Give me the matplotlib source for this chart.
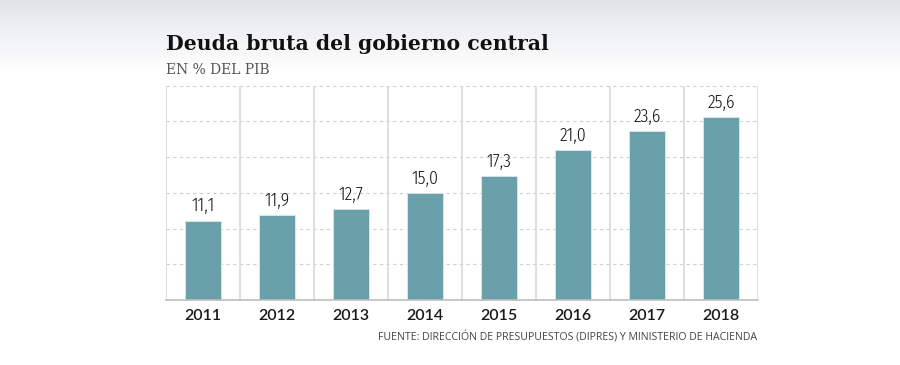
import matplotlib
matplotlib.use("Agg")
import matplotlib.pyplot as plt
import numpy as np
from matplotlib.colors import LinearSegmentedColormap

years = ["2011", "2012", "2013", "2014", "2015", "2016", "2017", "2018"]
values = [11.1, 11.9, 12.7, 15.0, 17.3, 21.0, 23.6, 25.6]
value_labels = ["11,1", "11,9", "12,7", "15,0", "17,3", "21,0", "23,6", "25,6"]

title = "Deuda bruta del gobierno central"
subtitle = "EN % DEL PIB"
source = "FUENTE: DIRECCIÓN DE PRESUPUESTOS (DIPRES) Y MINISTERIO DE HACIENDA"

SERIF = ["DejaVu Serif"]
COND = ["Fira Sans Condensed", "DejaVu Sans"]

W, H = 900, 365
fig = plt.figure(figsize=(W / 100, H / 100), dpi=100)
fig.patch.set_facecolor("white")

# top gradient band
bg = fig.add_axes([0, 0, 1, 1], zorder=-10)
bg.set_axis_off()
grad = np.linspace(0, 1, 256).reshape(-1, 1)
cmap = LinearSegmentedColormap.from_list("g", ["#e2e5e8", "#ffffff"])
bg.imshow(grad, aspect="auto", cmap=cmap, extent=[0, 1, 1 - 72 / H, 1], origin="upper")
bg.set_xlim(0, 1)
bg.set_ylim(0, 1)

ax = fig.add_axes([166 / W, (H - 300) / H, (758 - 166) / W, (300 - 85.5) / H])
ax.set_facecolor("none")
x = np.arange(len(years))
ax.bar(x, values, width=0.49, color="#6aa0aa", edgecolor="#d9eaec", linewidth=0.6, zorder=3)

ax.set_xlim(-0.5, len(years) - 0.5)
ax.set_ylim(0, 30)

for yv in [5, 10, 15, 20, 25, 30]:
    ax.axhline(yv, color="#cfcfcf", linestyle=(0, (3, 3)), linewidth=0.8, zorder=1)
for b in np.arange(-0.5, len(years), 1.0):
    ax.axvline(b, color="#d6d6d6", linewidth=1.1, zorder=2)

for s in ["top", "left", "right"]:
    ax.spines[s].set_visible(False)
ax.spines["bottom"].set_color("#bdbdbd")
ax.spines["bottom"].set_linewidth(1.2)
ax.spines["bottom"].set_zorder(4)

ax.set_yticks([])
ax.set_xticks(x)
ax.set_xticklabels(years, fontfamily=["Lato", "DejaVu Sans"], fontweight=600, fontsize=11.5, color="#1a1a1a")
ax.tick_params(axis="x", length=0, pad=6.5)

for xi, v, lab in zip(x, values, value_labels):
    ax.annotate(lab, (xi, v), xytext=(0, 4), textcoords="offset points", ha="center", va="bottom",
                fontfamily=COND, fontweight=300, fontsize=12.8, color="#111111", zorder=5)

fig.text(166 / W, 1 - 50.5 / H, title, fontfamily=SERIF, fontweight="bold", fontsize=14.7,
         color="#111111", ha="left", va="baseline")
fig.text(166 / W, 1 - 74 / H, subtitle, fontfamily=SERIF, fontsize=10.0, color="#555555",
         ha="left", va="baseline")
fig.text(757 / W, 1 - 340 / H, source, fontfamily=["Open Sans", "DejaVu Sans"], fontsize=7.6, color="#444444",
         ha="right", va="baseline")

fig.savefig("out.png", dpi=100)
